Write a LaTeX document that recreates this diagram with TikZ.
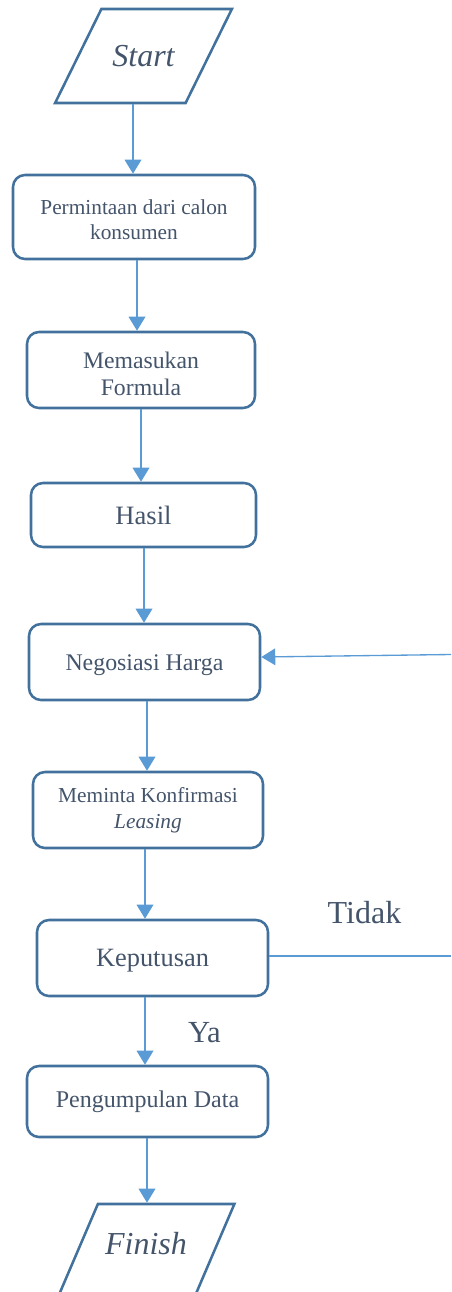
\documentclass[tikz,border=0pt]{standalone}
\usepackage{fontspec}
\setmainfont{Liberation Serif}
\newfontfamily\tnr{Liberation Serif}
\usetikzlibrary{shapes.geometric,arrows.meta}
\definecolor{bord}{HTML}{41719C}
\definecolor{conn}{HTML}{5B9BD5}
\definecolor{txt}{HTML}{44546A}
\newcommand{\setfs}[2]{\fontsize{#1}{#2}\selectfont}
\newcommand{\topstrut}[1]{\rule{0pt}{#1}}
\tikzset{
 procbox/.style={draw=bord, line width=1.9pt, rounded corners=9pt, text=txt, align=center, inner sep=0pt},
 iobox/.style={trapezium, trapezium left angle=70, trapezium right angle=110, trapezium stretches=true, draw=bord, line width=1.9pt, text=txt, inner sep=0pt},
 arr/.style={draw=conn, line width=1pt, -{Triangle[length=10.5pt,width=12.5pt]}},
 plainline/.style={draw=conn, line width=1pt},
 lbl/.style={text=txt, inner sep=0pt}
}
\begin{document}
\begin{tikzpicture}[x=0.75pt,y=-0.75pt]
\useasboundingbox (0,0) rectangle (451,1292);
\clip (0,0) rectangle (451,1292);
% nodes
\node[iobox, minimum width=132.75pt, text height=43.25pt, text depth=27.25pt, font={\tnr\itshape\setfs{24}{28}}] (start) at (143.5,56) {Start};
\node[procbox, minimum width=181.5pt, minimum height=63pt, font={\tnr\setfs{16}{18.75}}] (b1) at (134,217) {\topstrut{15.7pt}Permintaan dari calon\\konsumen};
\node[procbox, minimum width=171pt, minimum height=57pt, font={\tnr\setfs{17.8}{20.25}}] (b2) at (141,370) {\topstrut{18.5pt}Memasukan\\Formula};
\node[procbox, minimum width=168.75pt, minimum height=48pt, font={\tnr\setfs{19.9}{23}}] (b3) at (143.5,515) {Hasil};
\node[procbox, minimum width=173.25pt, minimum height=57pt, font={\tnr\setfs{17.9}{21}}] (b4) at (144.5,662) {\topstrut{16.7pt}Negosiasi Harga};
\node[procbox, minimum width=172.5pt, minimum height=57pt, font={\tnr\setfs{16}{19.5}}] (b5) at (148,810) {Meminta Konfirmasi\\\textit{Leasing}};
\node[procbox, minimum width=173.25pt, minimum height=57pt, font={\tnr\setfs{19.8}{23}}] (b6) at (152.5,958) {\topstrut{17.6pt}Keputusan};
\node[procbox, minimum width=180.75pt, minimum height=53.25pt, font={\tnr\setfs{18}{21}}] (b7) at (147.5,1101.5) {Pengumpulan Data};
\node[iobox, minimum width=132.75pt, text height=38pt, text depth=32.5pt, font={\tnr\itshape\setfs{24}{28}}] (finish) at (146,1251) {Finish};
\node[lbl, font={\tnr\setfs{24}{28}}] (tidak) at (364.5,913) {Tidak};
\node[lbl, font={\tnr\setfs{23}{27}}] (ya) at (204.5,1033) {Ya};
% connector columns
\coordinate (c1) at (133,0);
\coordinate (c2) at (137,0);
\coordinate (c3) at (141,0);
\coordinate (c4) at (144,0);
\coordinate (c5) at (147,0);
\coordinate (c6) at (145,0);
\coordinate (c7) at (145,0);
\coordinate (c8) at (147,0);
\coordinate (e1) at (451,956);
\coordinate (e2) at (451,654.5);
% connectors
\draw[arr] (start.south -| c1) -- (b1.north -| c1);
\draw[arr] (b1.south -| c2) -- (b2.north -| c2);
\draw[arr] (b2.south -| c3) -- (b3.north -| c3);
\draw[arr] (b3.south -| c4) -- (b4.north -| c4);
\draw[arr] (b4.south -| c5) -- (b5.north -| c5);
\draw[arr] (b5.south -| c6) -- (b6.north -| c6);
\draw[arr] (b6.south -| c7) -- (b7.north -| c7);
\draw[arr] (b7.south -| c8) -- (finish.north -| c8);
\draw[plainline] (b6.east |- e1) -- (e1);
\draw[arr] (e2) -- ([yshift=3.75pt]b4.east);
\end{tikzpicture}
\end{document}
